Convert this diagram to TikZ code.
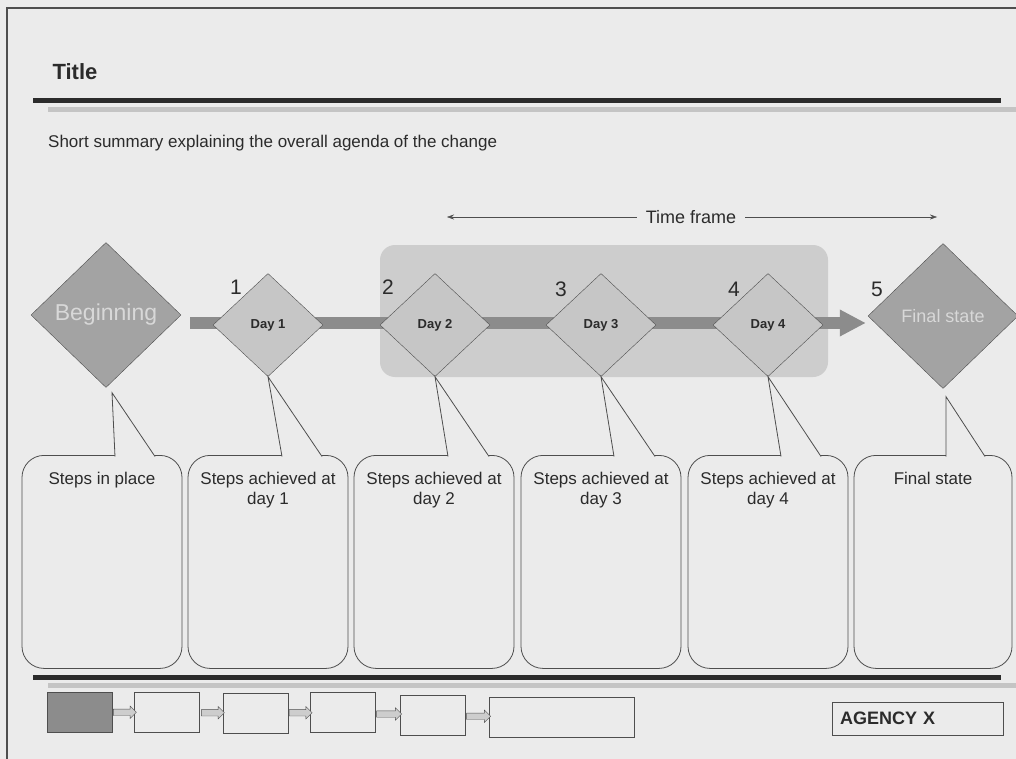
\documentclass[tikz,border=0pt]{standalone}
\usepackage{fontspec}
\setmainfont{Liberation Sans}
\usetikzlibrary{positioning,shapes.geometric,shapes.arrows,arrows.meta}
\definecolor{paper}{HTML}{EBEBEB}
\definecolor{ink}{HTML}{2B2B2B}
\definecolor{edge}{HTML}{4E4E4E}
\definecolor{bandgray}{HTML}{CDCDCD}
\definecolor{daygray}{HTML}{C6C6C6}
\definecolor{endgray}{HTML}{A3A3A3}
\definecolor{bargray}{HTML}{8C8C8C}
\definecolor{shadowgray}{HTML}{C4C4C4}
\tikzset{
  daybox/.style={diamond, draw=edge, fill=daygray, inner sep=0pt, minimum width=110pt,
    minimum height=103pt, font=\fontsize{13}{15}\selectfont\bfseries, text=ink},
  endbox/.style={diamond, draw=edge, fill=endgray, inner sep=0pt, minimum width=150pt,
    minimum height=145pt, text=paper!92!black},
  daynum/.style={font=\fontsize{21}{24}\selectfont, text=ink},
  callout/.style={draw=edge, fill=paper, rounded corners=22pt, minimum width=160pt,
    minimum height=213pt, anchor=north, line width=0.8pt},
  calltext/.style={font=\fontsize{17}{20}\selectfont, text=ink, align=center},
  pointer/.style={draw=edge, fill=paper, line width=0.8pt},
  rulebar/.style={line width=5pt, draw=ink},
  rulefade/.style={line width=5pt, draw=shadowgray},
  stepbox/.style={draw=edge, fill=paper, minimum width=65pt, minimum height=40pt, inner sep=0pt},
  blockarrow/.style={single arrow, draw=edge, fill=bandgray, minimum height=23pt,
    inner xsep=0pt, inner ysep=3pt, single arrow head extend=3pt},
}
\begin{document}
\begin{tikzpicture}[x=1pt, y=-1pt]
  \useasboundingbox (0,0) rectangle (1016,759);
  \fill[paper] (0,0) rectangle (1016,759);
  \draw[edge, line width=1.5pt] (7,759) -- (7,8) -- (1016,8);
  % header
  \node[anchor=base west, font=\fontsize{22}{25}\selectfont\bfseries, text=ink] (title) at (49,80) {Title};
  \draw[rulefade] (48,110) -- (1016,110);
  \draw[rulebar] (33,101) -- (1001,101);
  \node[anchor=base west, font=\fontsize{17}{20}\selectfont, text=ink, inner sep=0pt] (summary) at (48,148)
    {Short summary explaining the overall agenda of the change};
  % time frame
  \node[font=\fontsize{18}{20}\selectfont, text=ink, inner xsep=9pt] (frame) at (691,217) {Time frame};
  \coordinate (frameL) at (447,217);
  \coordinate (frameR) at (937,217);
  \draw[edge, -{Stealth[length=7pt,width=5pt]}] (frame.west) -- (frameL);
  \draw[edge, -{Stealth[length=7pt,width=5pt]}] (frame.east) -- (frameR);
  \node[fill=bandgray, rounded corners=15pt, minimum width=448pt, minimum height=132pt] (band) at (604,311) {};
  % time line
  \node[endbox, font=\fontsize{23}{26}\selectfont] (begin) at (106,315) {Beginning};
  \node[endbox, font=\fontsize{18}{20}\selectfont] (final) at (943,316) {Final state};
  \coordinate (barstart) at (190,323);
  \draw[bargray, line width=12pt, -{Triangle[length=26pt,width=25pt]}, shorten >=2pt]
    (barstart) -- (barstart -| final.west);
  \node[daybox] (day1) at (268,325) {Day 1};
  \node[daybox] (day2) at (435,325) {Day 2};
  \node[daybox] (day3) at (601,325) {Day 3};
  \node[daybox] (day4) at (768,325) {Day 4};
  \node[daynum] (n1) at (236,287) {1};
  \node[daynum] (n2) at (388,287) {2};
  \node[daynum] (n3) at (561,289) {3};
  \node[daynum] (n4) at (734,289) {4};
  \node[daynum] (n5) at (877,289) {5};
  % callouts
  \node[callout] (c1) at (102,455) {};
  \node[callout] (c2) at (268,455) {};
  \node[callout] (c3) at (434,455) {};
  \node[callout] (c4) at (601,455) {};
  \node[callout] (c5) at (768,455) {};
  \node[callout, minimum width=158pt] (c6) at (933,455) {};
  \draw[pointer] ([xshift=13pt,yshift=-1.5pt]c1.north) -- ([yshift=-5pt,xshift=6pt]begin.south)
    -- ([xshift=53pt,yshift=-1.5pt]c1.north);
  \draw[pointer] ([xshift=14pt,yshift=-1.5pt]c2.north) -- (day1.south) -- ([xshift=54pt,yshift=-1.5pt]c2.north);
  \draw[pointer] ([xshift=14pt,yshift=-1.5pt]c3.north) -- (day2.south) -- ([xshift=55pt,yshift=-1.5pt]c3.north);
  \draw[pointer] ([xshift=13pt,yshift=-1.5pt]c4.north) -- (day3.south) -- ([xshift=54pt,yshift=-1.5pt]c4.north);
  \draw[pointer] ([xshift=13pt,yshift=-1.5pt]c5.north) -- (day4.south) -- ([xshift=53pt,yshift=-1.5pt]c5.north);
  \draw[pointer] ([xshift=13pt,yshift=-1.5pt]c6.north) -- ([yshift=-8pt,xshift=3pt]final.south)
    -- ([xshift=52pt,yshift=-1.5pt]c6.north);
  \node[calltext, below=14pt of c1.north] (t1) {Steps in place};
  \node[calltext, below=14pt of c2.north] (t2) {Steps achieved at\\day 1};
  \node[calltext, below=14pt of c3.north] (t3) {Steps achieved at\\day 2};
  \node[calltext, below=14pt of c4.north] (t4) {Steps achieved at\\day 3};
  \node[calltext, below=14pt of c5.north] (t5) {Steps achieved at\\day 4};
  \node[calltext, below=14pt of c6.north] (t6) {Final state};
  % footer
  \draw[rulefade] (48,685) -- (1016,685);
  \draw[rulebar] (33,677) -- (1001,677);
  \node[stepbox, fill=bargray] (b1) at (79.5,712) {};
  \node[stepbox] (b2) at (167,712.5) {};
  \node[stepbox] (b3) at (255.5,713) {};
  \node[stepbox] (b4) at (342.5,712.5) {};
  \node[stepbox] (b5) at (432.5,715.5) {};
  \node[stepbox, minimum width=145pt] (b6) at (561.5,717) {};
  \path (b1.east) -- node[blockarrow] {} (b2.west);
  \path (b2.east) -- node[blockarrow] {} (b3.west);
  \path (b3.east) -- node[blockarrow] {} (b4.west);
  \path (b4.east) -- node[blockarrow, minimum height=25pt] {} (b5.west);
  \path (b5.east) -- node[blockarrow, minimum height=24pt] {} (b6.west);
  \node[draw=edge, fill=paper, text width=155pt, inner xsep=8pt, minimum height=33pt, align=left,
    font=\fontsize{18}{20}\selectfont\bfseries, text=ink] (agency) at (917.5,718.5) {AGENCY X};
\end{tikzpicture}
\end{document}
